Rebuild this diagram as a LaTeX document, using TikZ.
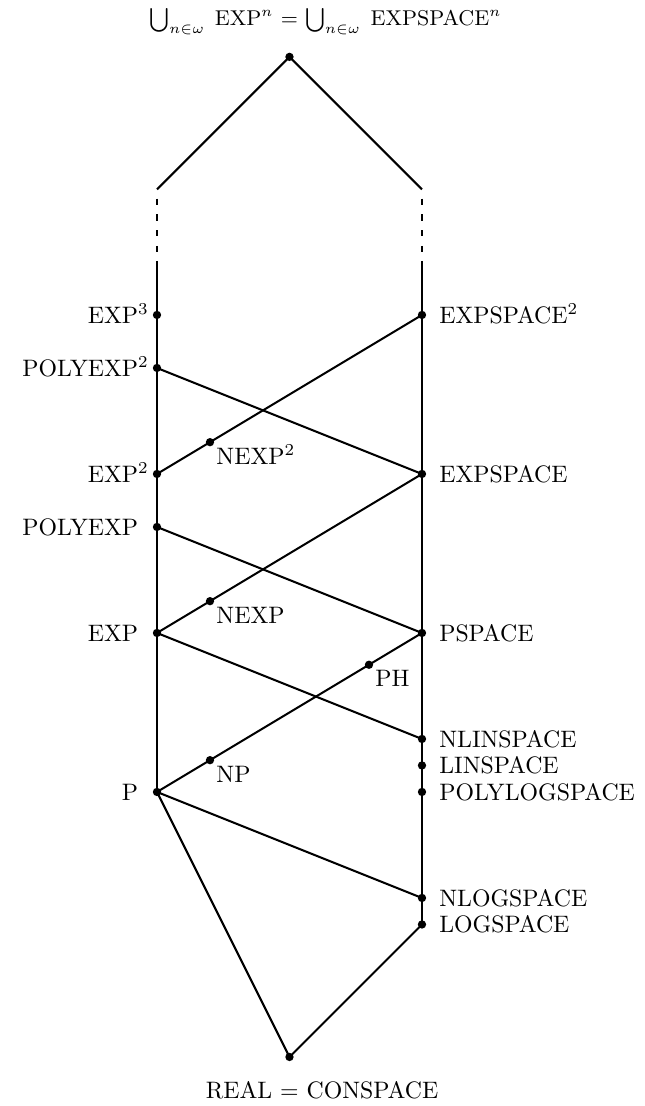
\documentclass[tikz,border=0pt]{standalone}
\begin{document}
\begin{tikzpicture}[x=0.7827cm,y=0.7827cm,line width=0.85pt,
  dot/.style={circle,fill,inner sep=0pt,minimum size=3.5pt},
  llab/.style={anchor=base east,inner sep=0pt,xshift=-7.5pt,yshift=-3.42pt},
  rlab/.style={anchor=base west,inner sep=0pt,xshift=6.85pt,yshift=-3.42pt},
  mlab/.style={anchor=base west,inner sep=0pt,xshift=2.3pt,yshift=-9.2pt},
  dashpat/.style={dash pattern=on 2.7pt off 3.9pt,dash phase=2.7pt}]
\useasboundingbox (-2.962,-5.925) rectangle (9.189,14.943);
% points
\node[dot] (top) at (2.5,13.87) {};
\coordinate (lt) at (0,11.37);
\coordinate (rt) at (5,11.37);
\coordinate (lb) at (0,10.02);
\coordinate (rb) at (5,10.02);
\node[dot] (exp3) at (0,9) {};
\node[dot] (polyexp2) at (0,8) {};
\node[dot] (exp2) at (0,6) {};
\node[dot] (polyexp) at (0,5) {};
\node[dot] (exp) at (0,3) {};
\node[dot] (p) at (0,0) {};
\node[dot] (expspace2) at (5,9) {};
\node[dot] (expspace) at (5,6) {};
\node[dot] (pspace) at (5,3) {};
\node[dot] (nlinspace) at (5,1) {};
\node[dot] (linspace) at (5,0.5) {};
\node[dot] (polylogspace) at (5,0) {};
\node[dot] (nlogspace) at (5,-2) {};
\node[dot] (logspace) at (5,-2.5) {};
\node[dot] (real) at (2.5,-5) {};
\node[dot] (nexp2) at (1,6.6) {};
\node[dot] (nexp) at (1,3.6) {};
\node[dot] (np) at (1,0.6) {};
\node[dot] (ph) at (4,2.4) {};
% lines
\draw (top.center) -- (lt);
\draw (top.center) -- (rt);
\draw[dashpat] (lt) -- (lb);
\draw[dashpat] (rt) -- (rb);
\draw (lb) -- (p.center);
\draw (rb) -- (logspace.center);
\draw (exp2.center) -- (expspace2.center);
\draw (polyexp2.center) -- (expspace.center);
\draw (exp.center) -- (expspace.center);
\draw (polyexp.center) -- (pspace.center);
\draw (exp.center) -- (nlinspace.center);
\draw (p.center) -- (pspace.center);
\draw (p.center) -- (nlogspace.center);
\draw (p.center) -- (real.center);
\draw (logspace.center) -- (real.center);
% labels
\node[llab] (lexp3) at (exp3.center) {EXP\rlap{$^3$}};
\node[llab] (lpolyexp2) at (polyexp2.center) {POLYEXP\rlap{$^2$}};
\node[llab] (lexp2) at (exp2.center) {EXP\rlap{$^2$}};
\node[llab] (lpolyexp) at (polyexp.center) {POLYEXP};
\node[llab] (lexp) at (exp.center) {EXP};
\node[llab] (lp) at (p.center) {P};
\node[rlab] (lexpspace2) at (expspace2.center) {EXPSPACE$^2$};
\node[rlab] (lexpspace) at (expspace.center) {EXPSPACE};
\node[rlab] (lpspace) at (pspace.center) {PSPACE};
\node[rlab] (lnlinspace) at (nlinspace.center) {NLINSPACE};
\node[rlab] (llinspace) at (linspace.center) {LINSPACE};
\node[rlab] (lpolylogspace) at (polylogspace.center) {POLYLOGSPACE};
\node[rlab] (lnlogspace) at (nlogspace.center) {NLOGSPACE};
\node[rlab] (llogspace) at (logspace.center) {LOGSPACE};
\node[mlab] (lnexp2) at (nexp2.center) {NEXP$^2$};
\node[mlab] (lnexp) at (nexp.center) {NEXP};
\node[mlab] (lnp) at (np.center) {NP};
\node[mlab] (lph) at (ph.center) {PH};
\node[anchor=base,inner sep=0pt] (toplab) at (2.5,14.453) {\small\llap{$\bigcup_{n\in\omega}\;\mathrm{EXP}^n$\ }$=$\rlap{\ $\bigcup_{n\in\omega}\;\mathrm{EXPSPACE}^n$}};
\node[anchor=base,inner sep=0pt] (botlab) at (2.5,-5.779) {\llap{REAL\ }$=$\rlap{\ CONSPACE}};
\end{tikzpicture}
\end{document}
